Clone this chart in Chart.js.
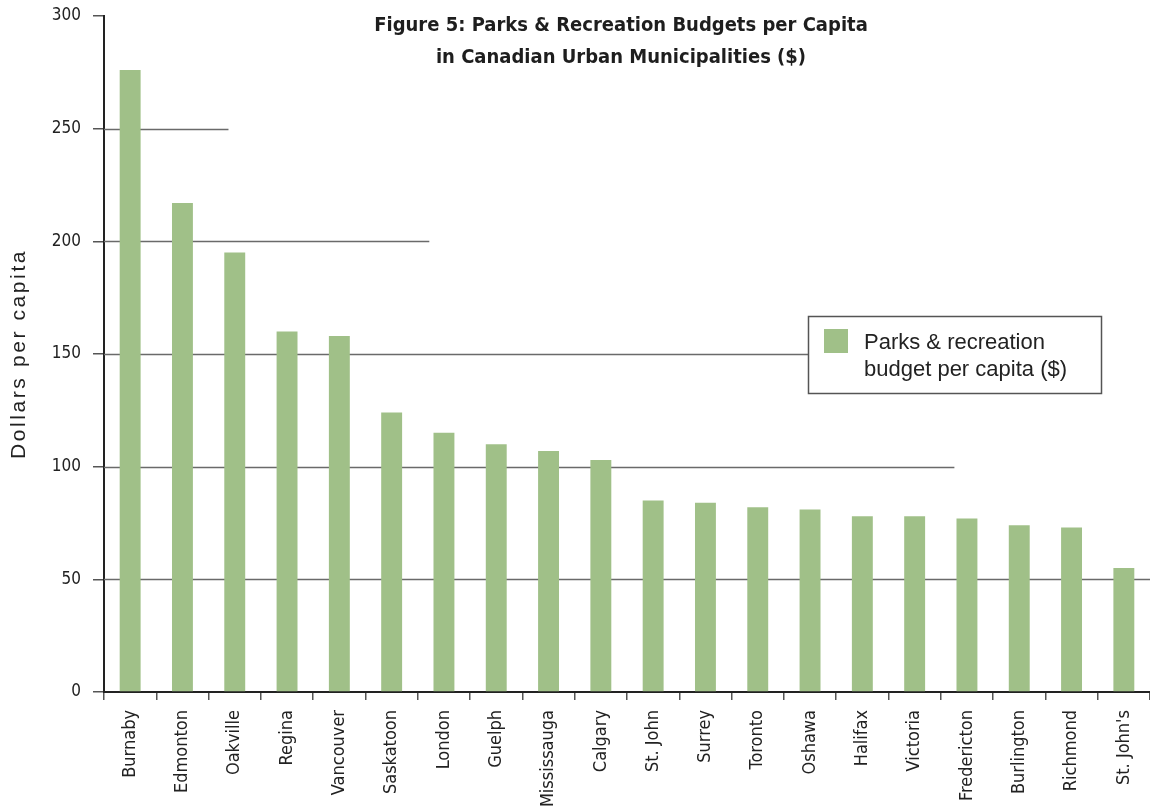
<!DOCTYPE html>
<html>
<head>
<meta charset="utf-8">
<script src="https://cdn.jsdelivr.net/npm/chart.js@4/dist/chart.umd.min.js"></script>
<style>
  html, body { margin: 0; padding: 0; background: #fff; }
  #wrap { width: 1150px; height: 811px; }
</style>
</head>
<body>
<div id="wrap"><canvas id="budgetChart" width="1150" height="811"></canvas></div>
<script>
// Parks & recreation spending per capita, by municipality
const cities = ['Burnaby', 'Edmonton', 'Oakville', 'Regina', 'Vancouver', 'Saskatoon', 'London',
    'Guelph', 'Mississauga', 'Calgary', 'St. John', 'Surrey', 'Toronto', 'Oshawa', 'Halifax',
    'Victoria', 'Fredericton', 'Burlington', 'Richmond', "St. John's"];
const budgetPerCapita = [276, 217, 195, 160, 158, 124, 115, 110, 107, 103, 85, 84, 82, 81, 78, 78, 77, 74, 73, 55];
const yTicks = [0, 50, 100, 150, 200, 250, 300];

const seriesLabel = ['Parks & recreation', 'budget per capita ($)'];
const titleLines = ['Figure 5: Parks & Recreation Budgets per Capita', 'in Canadian Urban Municipalities ($)'];
const yTitle = 'Dollars per capita';

const barColor = '#a0c088';
const narrow = '"DejaVu Sans Condensed", "Liberation Sans Narrow", sans-serif';

// how far across the plot each horizontal rule runs (fraction of plot width)
const ruleReach = { 50: 1, 100: 0.813, 150: 0.674, 200: 0.311, 250: 0.119 };

const decorPlugin = {
    id: 'decor',
    beforeDatasetsDraw(chart) {
        const { ctx, chartArea, scales } = chart;
        ctx.save();
        ctx.strokeStyle = '#6a6a6a';
        ctx.lineWidth = 1.5;
        Object.keys(ruleReach).forEach(v => {
            const y = Math.round(scales.y.getPixelForValue(+v)) + 0.5;
            const x2 = chartArea.left + ruleReach[v] * (chartArea.right - chartArea.left);
            ctx.beginPath();
            ctx.moveTo(chartArea.left, y);
            ctx.lineTo(x2, y);
            ctx.stroke();
        });
        ctx.restore();
    },
    afterDraw(chart) {
        const { ctx, chartArea } = chart;
        ctx.save();

        // title
        ctx.fillStyle = '#1e1e1e';
        ctx.font = 'bold 20px ' + narrow;
        ctx.textAlign = 'center';
        ctx.textBaseline = 'alphabetic';
        const cx = (chartArea.left + chartArea.right) / 2 - 6;
        ctx.fillText(titleLines[0], cx, 31);
        ctx.fillText(titleLines[1], cx, 63);

        // legend box
        const bx = 808.5, by = 316.5, bw = 293, bh = 77;
        ctx.fillStyle = '#fff';
        ctx.fillRect(bx, by, bw, bh);
        ctx.strokeStyle = '#555';
        ctx.lineWidth = 1.5;
        ctx.strokeRect(bx, by, bw, bh);
        ctx.fillStyle = barColor;
        ctx.fillRect(824, 329, 24, 24);
        ctx.fillStyle = '#222';
        ctx.textAlign = 'left';
        ctx.font = '22px "Liberation Sans", Arial, sans-serif';
        ctx.fillText(seriesLabel[0], 864, 349);
        ctx.fillText(seriesLabel[1], 864, 376);

        // y axis title, tracked out
        ctx.translate(25, (chartArea.top + chartArea.bottom) / 2);
        ctx.rotate(-Math.PI / 2);
        ctx.font = '21px "Liberation Sans", Arial, sans-serif';
        ctx.letterSpacing = '2.6px';
        ctx.textAlign = 'center';
        ctx.fillStyle = '#222';
        ctx.fillText(yTitle, 0, 0);
        ctx.restore();
    }
};

const ctx = document.getElementById('budgetChart').getContext('2d');
const budgetChart = new Chart(ctx, {
    type: 'bar',
    data: {
        labels: cities,
        datasets: [{
            label: seriesLabel.join(' '),
            data: budgetPerCapita,
            backgroundColor: barColor,
            borderWidth: 0,
            barPercentage: 0.4,
            categoryPercentage: 1.0
        }]
    },
    options: {
        responsive: false,
        animation: false,
        events: [],
        layout: { padding: { top: 16, right: 0, left: 0, bottom: 0 } },
        plugins: {
            legend: { display: false },
            title: { display: false },
            tooltip: { enabled: false }
        },
        scales: {
            x: {
                afterFit: scale => {
                    scale.height = 119;
                    scale.paddingLeft = 0;
                    scale.paddingRight = 0;
                },
                grid: {
                    drawOnChartArea: false,
                    drawTicks: true,
                    tickLength: 8,
                    color: '#555',
                    lineWidth: 1.5,
                    offset: true
                },
                border: { color: '#222', width: 2 },
                ticks: {
                    minRotation: 90,
                    maxRotation: 90,
                    autoSkip: false,
                    padding: 10,
                    color: '#222',
                    font: { family: narrow, size: 18 }
                }
            },
            y: {
                min: 0,
                max: 300,
                afterFit: scale => {
                    scale.width = 104;
                    scale.paddingTop = 0;
                    scale.paddingBottom = 0;
                },
                afterBuildTicks: scale => { scale.ticks = yTicks.map(v => ({ value: v })); },
                grid: {
                    drawOnChartArea: false,
                    drawTicks: true,
                    tickLength: 11,
                    color: '#555',
                    lineWidth: 1.5
                },
                border: { color: '#222', width: 2 },
                ticks: {
                    padding: 12,
                    color: '#222',
                    font: { family: narrow, size: 17 }
                }
            }
        }
    },
    plugins: [decorPlugin]
});
</script>
</body>
</html>
